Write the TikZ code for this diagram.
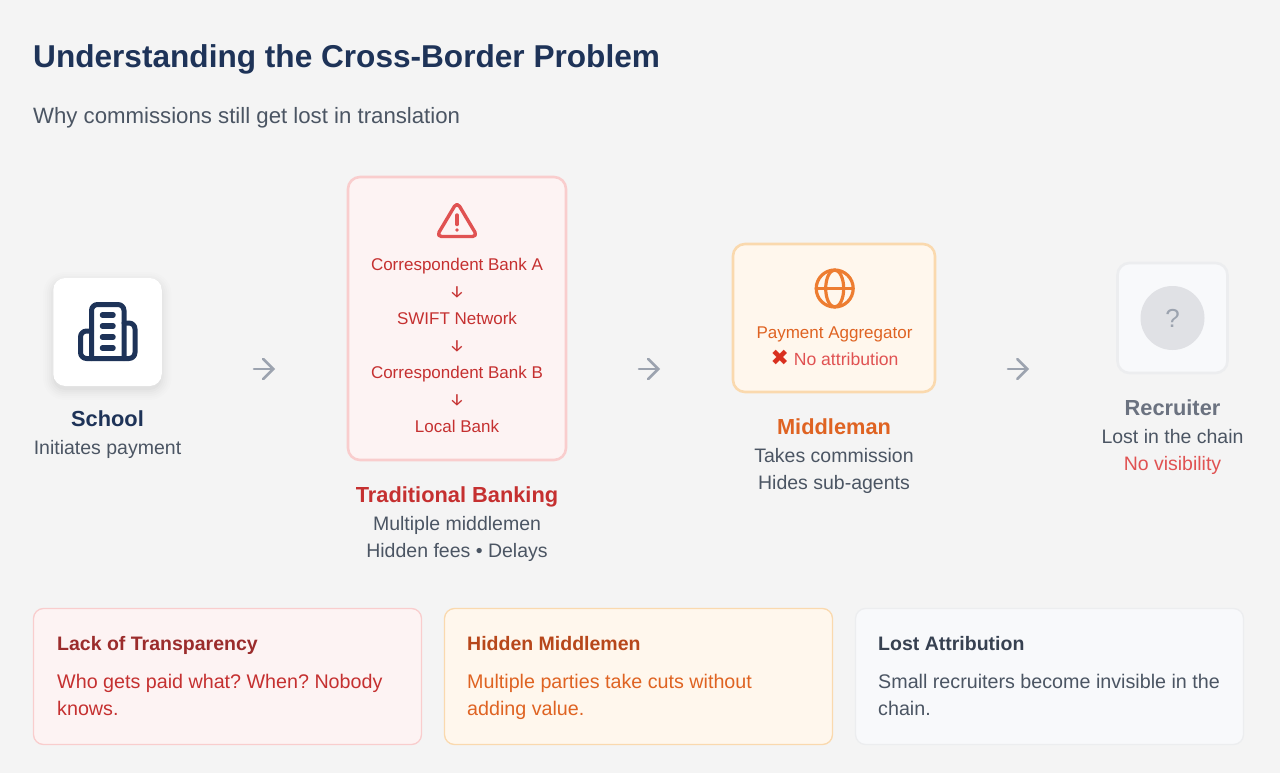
\documentclass[tikz,border=0pt]{standalone}
\usepackage{fontspec}
\setmainfont{Liberation Sans}
\newfontfamily\symfont{DejaVu Sans}
\newfontfamily\arrowfont{Fira Sans}
\usetikzlibrary{positioning,arrows.meta}
\definecolor{pageBg}{HTML}{F4F4F4}
\definecolor{navyText}{HTML}{1E3358}
\definecolor{greyText}{HTML}{4B5563}
\definecolor{slateText}{HTML}{374151}
\definecolor{muteGrey}{HTML}{6B7280}
\definecolor{arrowGrey}{HTML}{9CA3AF}
\definecolor{redText}{HTML}{C53030}
\definecolor{redDark}{HTML}{9B2C2C}
\definecolor{redSoft}{HTML}{E05252}
\definecolor{redCross}{HTML}{D9301F}
\definecolor{redFill}{HTML}{FDF3F3}
\definecolor{redLine}{HTML}{F9CDCD}
\definecolor{orangeText}{HTML}{DF6322}
\definecolor{orangeDark}{HTML}{B7471B}
\definecolor{orangeIcon}{HTML}{ED7D31}
\definecolor{orangeFill}{HTML}{FFF7ED}
\definecolor{orangeLine}{HTML}{FAD9AE}
\definecolor{paleFill}{HTML}{F8F9FB}
\definecolor{paleLine}{HTML}{ECEDEF}
\definecolor{discGrey}{HTML}{E0E1E5}

\begin{document}
\frenchspacing
\begin{tikzpicture}[x=1pt,y=-1pt,
    flowbox/.style={rounded corners=12pt, inner sep=0pt, line width=2.6pt},
    card/.style={rounded corners=10pt, inner sep=0pt, line width=1.3pt, minimum width=388pt, minimum height=136pt},
    txt/.style={inner sep=0pt, anchor=base},
    stagehead/.style={txt, font=\fontsize{21.8}{27}\selectfont\bfseries},
    stagenote/.style={txt, font=\fontsize{19.5}{27}\selectfont, text=greyText},
    chain/.style={txt, font=\fontsize{17}{27}\selectfont, text=redText},
    cardhead/.style={inner sep=0pt, anchor=base west, font=\fontsize{19.5}{27}\selectfont\bfseries},
    cardbody/.style={inner sep=0pt, anchor=base west, align=left, font=\fontsize{19.7}{27}\selectfont},
    arr/.style={-{Straight Barb[length=10pt,width=20pt,line cap=round]}, line width=2.6pt, arrowGrey, line cap=round},
    icon/.style={line cap=round, line join=round},
]
\useasboundingbox (0,0) rectangle (1280,773);
\fill[pageBg] (0,0) rectangle (1280,773);

% heading
\node[inner sep=0pt, anchor=base west, text=navyText, font=\fontsize{31.6}{36}\selectfont\bfseries] (title) at (33,68) {Understanding the Cross-Border Problem};
\node[inner sep=0pt, text=greyText, font=\fontsize{22.2}{27}\selectfont, below=56pt of title.base west, anchor=base west] (subtitle) {Why commissions still get lost in translation};

% school
\foreach \grow/\op in {10/0.006,8/0.008,6/0.01,4/0.012,2/0.015,0/0.02}
  \fill[black, opacity=\op, rounded corners=12pt+\grow] (53-\grow,278-\grow+4) rectangle (161.5+\grow,386+\grow+4);
\node[fill=white, rounded corners=12pt, inner sep=0pt, minimum width=108.5pt, minimum height=108pt] (school) at (107.5,332) {};
\begin{scope}[icon, navyText, line width=5pt]
  \draw[rounded corners=6pt] (91.5,358.5) -- (91.5,304.5) -- (124,304.5) -- (124,358.5);
  \draw[rounded corners=6pt] (91.5,331) -- (80.5,331) -- (80.5,358.5) -- (135,358.5) -- (135,323) -- (124,323);
  \foreach \ly in {315,326,337,348}
    \draw[line width=5.5pt] (102.5,\ly) -- (113,\ly);
\end{scope}
\node[stagehead, text=navyText, below=40pt of school.south, anchor=base] (schoolname) {School};
\node[stagenote, below=28.5pt of schoolname.base, anchor=base] (schoolnote) {Initiates payment};

% banking
\node[flowbox, draw=redLine, fill=redFill, minimum width=218pt, minimum height=283pt] (bank) at (457,318.5) {};
\begin{scope}[icon, redSoft, line width=3.4pt]
  \draw[rounded corners=5pt] (457,202) -- (477.5,236.5) -- (436.5,236.5) -- cycle;
  \draw (457,215) -- (457,224.5);
  \fill (457,230) circle (1.9);
\end{scope}
\node[chain] (bank1) at (457,270) {Correspondent Bank A};
\node[chain, below=27pt of bank1.base, anchor=base] (down1) {\arrowfont↓};
\node[chain, below=27pt of down1.base, anchor=base] (bank2) {SWIFT Network};
\node[chain, below=27pt of bank2.base, anchor=base] (down2) {\arrowfont↓};
\node[chain, below=27pt of down2.base, anchor=base] (bank3) {Correspondent Bank B};
\node[chain, below=27pt of bank3.base, anchor=base] (down3) {\arrowfont↓};
\node[chain, below=27pt of down3.base, anchor=base] (bank4) {Local Bank};
\node[stagehead, text=redText, below=41pt of bank.south, anchor=base] (bankname) {Traditional Banking};
\node[stagenote, below=28.5pt of bankname.base, anchor=base] (banknote1) {Multiple middlemen};
\node[stagenote, below=27pt of banknote1.base, anchor=base] (banknote2) {Hidden fees • Delays};

% middleman
\node[flowbox, draw=orangeLine, fill=orangeFill, minimum width=202pt, minimum height=148pt] (middle) at (834,318) {};
\begin{scope}[icon, orangeIcon, line width=3.2pt]
  \draw (834.7,288.5) circle (18.5);
  \draw (834.7,288.5) ellipse (9 and 18.5);
  \draw (816.2,288.5) -- (853.2,288.5);
\end{scope}
\node[chain, text=orangeText] (aggr) at (834.5,338) {Payment Aggregator};
\node[chain, text=redSoft, below=27pt of aggr.base, anchor=base] (noattr) {{\symfont\fontsize{22}{27}\selectfont\textcolor{redCross}{✖}}\fontsize{17.6}{27}\selectfont\ No attribution};
\node[stagehead, text=orangeText, below=41pt of middle.south, anchor=base] (middlename) {Middleman};
\node[stagenote, below=28.5pt of middlename.base, anchor=base] (middlenote1) {Takes commission};
\node[stagenote, below=27pt of middlenote1.base, anchor=base] (middlenote2) {Hides sub-agents};

% recruiter
\node[flowbox, draw=paleLine, fill=paleFill, minimum width=110pt, minimum height=110pt] (recruiter) at (1172.5,318) {};
\node[circle, fill=discGrey, minimum size=64pt, inner sep=0pt, text=arrowGrey, font=\fontsize{26}{27}\selectfont] (unknown) at (recruiter.center) {?};
\node[stagehead, text=muteGrey, below=41pt of recruiter.south, anchor=base] (recruitername) {Recruiter};
\node[stagenote, below=28.5pt of recruitername.base, anchor=base] (recruiternote1) {Lost in the chain};
\node[stagenote, text=redSoft, below=27pt of recruiternote1.base, anchor=base] (recruiternote2) {No visibility};

% arrows
\coordinate (a1) at (254,369); \coordinate (b1) at (275,369);
\coordinate (a2) at (639,369); \coordinate (b2) at (660,369);
\coordinate (a3) at (1008,369); \coordinate (b3) at (1029,369);
\draw[arr] (a1) -- (b1);
\draw[arr] (a2) -- (b2);
\draw[arr] (a3) -- (b3);

% cards
\node[card, draw=redLine, fill=redFill] (card1) at (227.5,676.5) {};
\node[card, draw=orangeLine, fill=orangeFill] (card2) at (638.5,676.5) {};
\node[card, draw=paleLine, fill=paleFill] (card3) at (1049.5,676.5) {};
\node[cardhead, text=redDark] (card1head) at (57,650) {Lack of Transparency};
\node[cardbody, text=redText] (card1body) at (57,715) {Who gets paid what? When? Nobody\\knows.};
\node[cardhead, text=orangeDark] (card2head) at (467,650) {Hidden Middlemen};
\node[cardbody, text=orangeText] (card2body) at (467,715) {Multiple parties take cuts without\\adding value.};
\node[cardhead, text=slateText] (card3head) at (878,650) {Lost Attribution};
\node[cardbody, text=greyText] (card3body) at (878,715) {Small recruiters become invisible in the\\chain.};
\end{tikzpicture}
\end{document}
